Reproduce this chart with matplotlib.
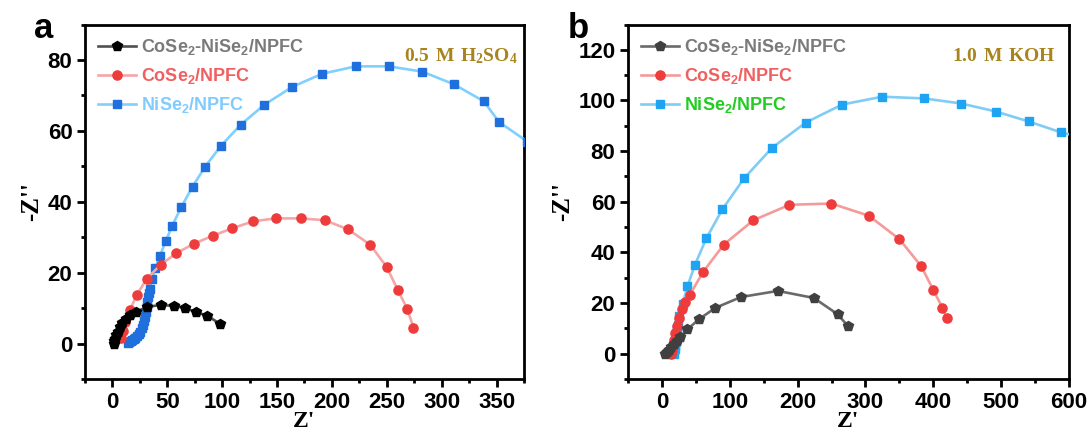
import numpy as np
import matplotlib.pyplot as plt
from matplotlib.ticker import MultipleLocator

plt.rcParams['font.family'] = ['Liberation Sans', 'DejaVu Sans']
plt.rcParams['font.weight'] = 'bold'
plt.rcParams['mathtext.fontset'] = 'custom'
plt.rcParams['mathtext.rm'] = 'Liberation Sans:bold'
plt.rcParams['mathtext.bf'] = 'Liberation Serif:bold'
plt.rcParams['mathtext.default'] = 'rm'

labels = [r'CoSe$_2$-NiSe$_2$/NPFC', r'CoSe$_2$/NPFC', r'NiSe$_2$/NPFC']

# panel a : 0.5 M H2SO4
a_cn_x = [1.5, 1.8, 2.5, 3.5, 4.8, 6.5, 9, 12, 16, 21.2, 31.2, 43.9, 56, 66.4, 76, 86.3, 97.8]
a_cn_y = [0.0, 0.6, 1.3, 2.3, 3.4, 4.6, 5.9, 7.0, 8.0, 8.9, 10.3, 10.9, 10.6, 10.0, 8.9, 7.9, 5.6]
a_co_x = [8.1, 9.4, 11.9, 16.0, 22.2, 31.3, 43.8, 58.2, 74.5, 91.4, 109.0, 128.4, 148.7, 171.6,
          193.5, 214.8, 234.8, 249.9, 260.2, 268.6, 274.3]
a_co_y = [1.7, 3.6, 6.1, 9.5, 13.7, 18.3, 22.2, 25.5, 28.2, 30.4, 32.5, 34.5, 35.3, 35.3,
          34.8, 32.2, 27.9, 21.6, 15.0, 9.8, 4.5]
a_ni_x = [14, 15, 16.5, 18, 19.5, 21, 22.5, 24, 25.5, 26.8, 28, 29, 29.8, 30.5, 31.1, 31.7, 32.3,
          33.0, 33.8, 36.3, 39.1, 43.2, 48.5, 54.2, 62.6, 73.0, 84.5, 98.9, 116.8, 138.1, 163.8,
          191.0, 221.7, 252.0, 282.4, 311.5, 338.5, 352.2, 378]
a_ni_y = [0.2, 0.4, 0.6, 0.9, 1.2, 1.6, 2.1, 2.7, 3.4, 4.3, 5.3, 6.4, 7.6, 8.9, 10.2, 11.6, 13.0,
          14.4, 15.4, 18.3, 21.3, 24.7, 28.8, 33.1, 38.4, 44.3, 49.9, 55.8, 61.7, 67.3, 72.4,
          76.1, 78.2, 78.2, 76.7, 73.1, 68.3, 62.5, 57.0]

# panel b : 1.0 M KOH
b_cn_x = [5, 8, 11, 14, 18, 22, 27, 37.6, 54.6, 78.8, 116.9, 171.0, 224.0, 259.0, 274.5]
b_cn_y = [0.0, 0.6, 1.4, 2.5, 3.8, 5.0, 6.5, 9.6, 13.6, 18.1, 22.4, 24.8, 22.0, 15.6, 10.8]
b_co_x = [14, 15, 16.5, 18, 20, 22.5, 25.5, 29, 34, 41.2, 60.8, 91.2, 134.9, 188.0, 249.8,
          304.9, 350.2, 382.1, 400.2, 413.5, 419.7]
b_co_y = [0.0, 1.5, 3.5, 5.5, 8.0, 11.0, 14.0, 17.5, 20.5, 23.3, 32.3, 43.1, 52.7, 58.8, 59.3,
          54.5, 45.2, 34.6, 25.1, 18.1, 14.2]
b_ni_x = [18, 18.5, 19, 19.5, 20, 20.7, 21.3, 22, 22.8, 23.6, 25.8, 30.9, 37.6, 48.9, 65.4,
          89.1, 121.0, 162.7, 212.2, 265.7, 325.0, 386.8, 441.4, 492.9, 540.8, 588.2, 610]
b_ni_y = [0.0, 1.0, 2.0, 3.2, 4.4, 5.7, 7.0, 8.4, 9.8, 11.3, 14.8, 19.8, 26.6, 35.2, 45.5,
          57.0, 69.2, 81.4, 91.3, 98.4, 101.5, 100.8, 98.8, 95.6, 91.7, 87.4, 86.0]

fig = plt.figure(figsize=(10.91, 4.34), dpi=100)
axa = fig.add_axes([0.0779, 0.1267, 0.4024, 0.8168])
axb = fig.add_axes([0.5756, 0.1267, 0.4042, 0.8168])


def draw(ax, data, mcol, lcol, tcol):
    mk = ['p', 'o', 's']
    ms = [7, 6.6, 6]
    for i, (x, y) in enumerate(data):
        ax.plot(x, y, color=lcol[i], lw=1.9, marker=mk[i], ms=ms[i],
                mfc=mcol[i], mec=mcol[i], label=labels[i], zorder=4 - i * 0.5)
    ax.legend(loc='upper left', bbox_to_anchor=(0.0, 1.0), frameon=False, fontsize=13,
              handlelength=2.1, handletextpad=0.3, labelspacing=0.5, borderaxespad=0.3,
              labelcolor=tcol)
    for s in ax.spines.values():
        s.set_linewidth(2)
    ax.tick_params(which='both', direction='out', width=2, labelsize=16)
    ax.tick_params(which='major', length=5.5)
    ax.tick_params(which='minor', length=3)
    ax.set_xlabel("Z'", family='Liberation Serif', fontsize=17, fontweight='bold', labelpad=-1)
    ax.set_ylabel("-Z''", family='Liberation Serif', fontsize=18, fontweight='bold', labelpad=3)


draw(axa, [(a_cn_x, a_cn_y), (a_co_x, a_co_y), (a_ni_x, a_ni_y)],
     ['#000000', '#ee3b3b', '#1f6fdc'], ['#505050', '#f5a6a6', '#80d0ff'],
     ['#7a7a7a', '#f06060', '#80ccff'])
axa.set_xlim(-25, 375)
axa.set_ylim(-10, 90)
axa.xaxis.set_major_locator(MultipleLocator(50))
axa.xaxis.set_minor_locator(MultipleLocator(25))
axa.yaxis.set_major_locator(MultipleLocator(20))
axa.yaxis.set_minor_locator(MultipleLocator(10))
axa.text(0.985, 0.91, r'$\mathbf{0.5\ M\ H_2SO_4}$', transform=axa.transAxes, ha='right',
         va='center', fontsize=14, color='#a8841f')

draw(axb, [(b_cn_x, b_cn_y), (b_co_x, b_co_y), (b_ni_x, b_ni_y)],
     ['#404040', '#ee3b3b', '#1ea4f2'], ['#6a6a6a', '#f59a9a', '#80ccf5'],
     ['#7a7a7a', '#f06060', '#22cc22'])
axb.set_xlim(-50, 600)
axb.set_ylim(-10, 130)
axb.xaxis.set_major_locator(MultipleLocator(100))
axb.xaxis.set_minor_locator(MultipleLocator(50))
axb.yaxis.set_major_locator(MultipleLocator(20))
axb.yaxis.set_minor_locator(MultipleLocator(10))
axb.text(0.97, 0.91, r'$\mathbf{1.0\ M\ KOH}$', transform=axb.transAxes, ha='right',
         va='center', fontsize=14, color='#a8841f')

fig.text(0.04, 0.935, 'a', fontsize=25, fontweight='bold', ha='center', va='center')
fig.text(0.53, 0.935, 'b', fontsize=25, fontweight='bold', ha='center', va='center')

fig.savefig('out.png', dpi=100)
